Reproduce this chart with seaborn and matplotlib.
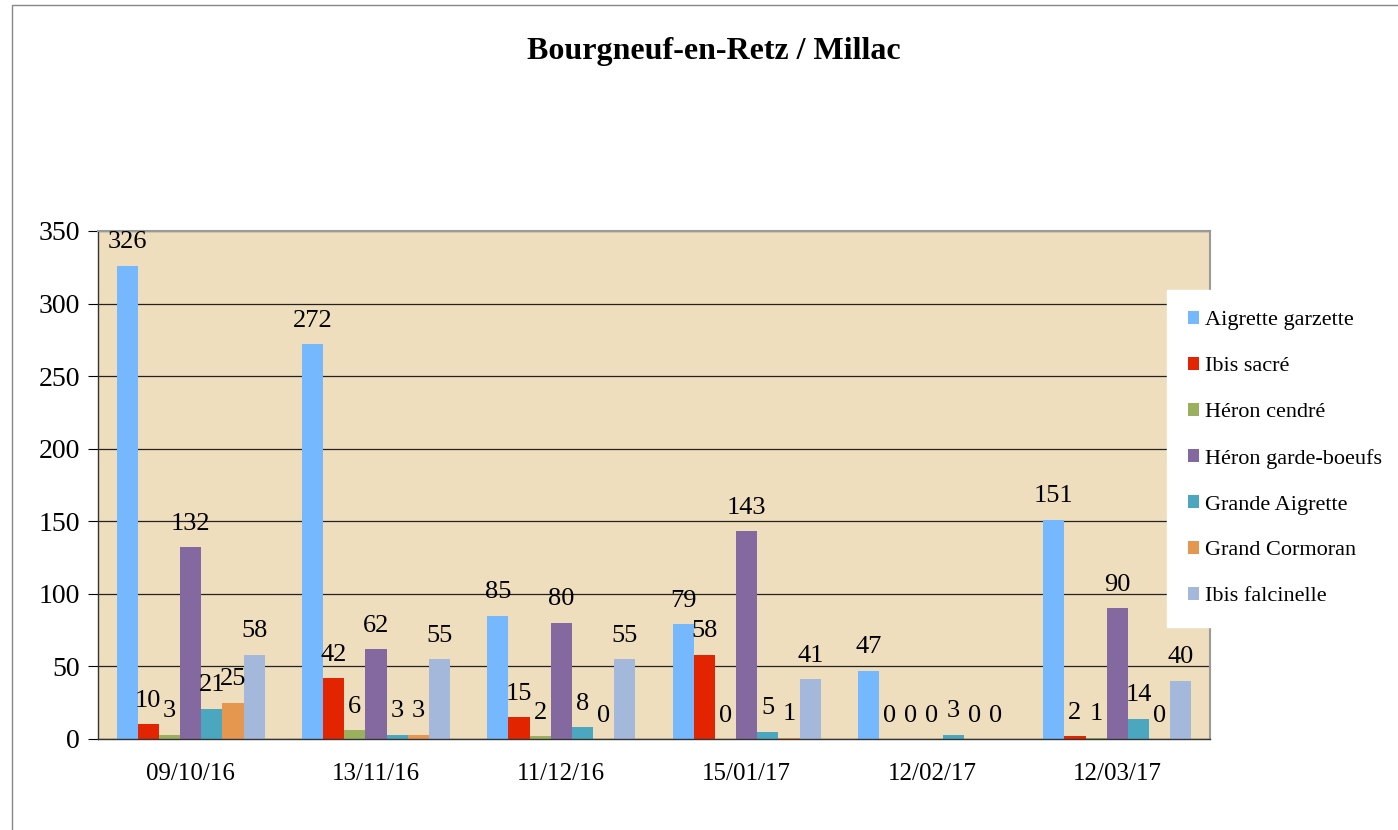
import pandas as pd
import matplotlib.pyplot as plt
import seaborn as sns
from matplotlib.patches import Rectangle

# Comptages par date de sortie
dates = ['09/10/16', '13/11/16', '11/12/16', '15/01/17', '12/02/17', '12/03/17']
especes = ['Aigrette garzette', 'Ibis sacré', 'Héron cendré', 'Héron garde-boeufs',
           'Grande Aigrette', 'Grand Cormoran', 'Ibis falcinelle']
aigrette_garzette = [326, 272, 85, 79, 47, 151]
ibis_sacre = [10, 42, 15, 58, 0, 2]
heron_cendre = [3, 6, 2, 0, 0, 1]
heron_garde_boeufs = [132, 62, 80, 143, 0, 90]
grande_aigrette = [21, 3, 8, 5, 3, 14]
grand_cormoran = [25, 3, 0, 1, 0, 0]
ibis_falcinelle = [58, 55, 55, 41, 0, 40]
couleurs = ['#75B8FD', '#E32400', '#9BB05E', '#8469A0', '#4BA7BF', '#E5964F', '#A4B8DC']

series = [aigrette_garzette, ibis_sacre, heron_cendre, heron_garde_boeufs,
          grande_aigrette, grand_cormoran, ibis_falcinelle]
rows = []
for esp, vals in zip(especes, series):
    for d, v in zip(dates, vals):
        rows.append({'date': d, 'espece': esp, 'n': v})
df = pd.DataFrame(rows)

sns.set_style('white')
plt.rcParams['font.family'] = ['Liberation Serif', 'DejaVu Serif']
plt.rcParams['text.color'] = 'black'
plt.rcParams['xtick.color'] = 'black'
plt.rcParams['ytick.color'] = 'black'

fig = plt.figure(figsize=(13.98, 8.30), dpi=100)
ax = fig.add_axes([98 / 1398, 1 - 739 / 830, (1210 - 98) / 1398, (739 - 231) / 830])

sns.barplot(data=df, x='date', y='n', hue='espece', order=dates, hue_order=especes,
            palette=couleurs, saturation=1, width=0.8, linewidth=0, ax=ax, legend=True)

ax.set_facecolor('#EFDEBD')
ax.set_ylim(0, 350)
ax.set_xlim(-0.5, len(dates) - 0.5)
ax.set_yticks(range(0, 351, 50))
ax.yaxis.grid(True, color='#222222', linewidth=0.9)
ax.set_axisbelow(True)
ax.set_xlabel('')
ax.set_ylabel('')

# ticks between the groups
ax.set_xticks([i - 0.5 for i in range(len(dates) + 1)], minor=True)
ax.tick_params(axis='x', which='major', length=0, pad=17, labelsize=18)
ax.tick_params(axis='x', which='minor', length=7, width=0.8, color='#444444', direction='out')
ax.tick_params(axis='y', length=7, width=0.8, direction='out', labelsize=20, pad=6, left=True)

for s in ['left', 'bottom']:
    ax.spines[s].set_color('#333333')
    ax.spines[s].set_linewidth(1)
for s in ['top', 'right']:
    ax.spines[s].set_color('#999999')
    ax.spines[s].set_linewidth(1.5)

for cont in ax.containers:
    ax.bar_label(cont, padding=9, fontsize=19)

leg = ax.legend(loc='upper left', bbox_to_anchor=(1167 / 1398, 1 - 290 / 830),
                bbox_transform=fig.transFigure, frameon=True, fontsize=16,
                handlelength=0.5, handleheight=0.5, handletextpad=0.25,
                labelspacing=1.2, borderpad=0.95, borderaxespad=0)
leg.get_frame().set_facecolor('white')
leg.get_frame().set_edgecolor('white')
leg.get_frame().set_alpha(1)
leg.get_frame().set_boxstyle('square', pad=0)

fig.text(714 / 1398, 1 - 52 / 830, 'Bourgneuf-en-Retz / Millac', ha='center', va='center',
         fontsize=23, fontweight='bold')

fig.patches.append(Rectangle((12 / 1398, -0.01), 1.0, 1 - 5 / 830 + 0.01,
                             transform=fig.transFigure, fill=False,
                             edgecolor='#888888', linewidth=1))

fig.savefig('out.png', dpi=100)
